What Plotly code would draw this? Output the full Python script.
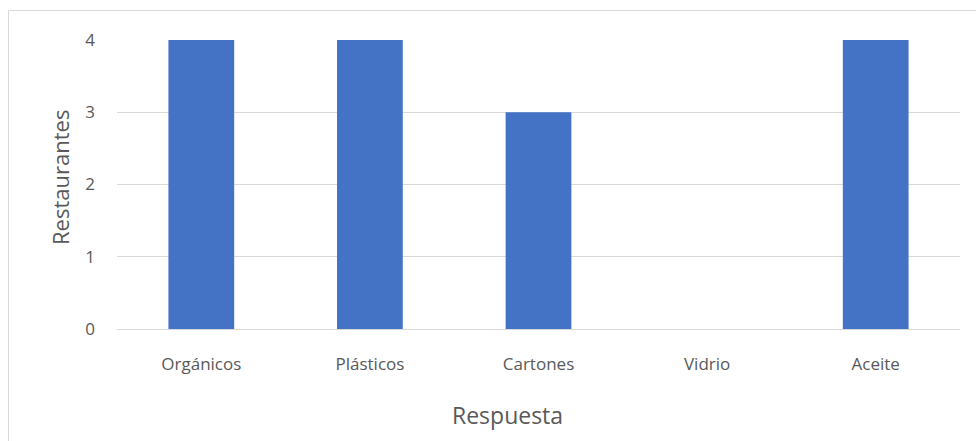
import plotly.graph_objects as go

categorias = ["Orgánicos", "Plásticos", "Cartones", "Vidrio", "Aceite"]
restaurantes = [4, 4, 3, 0, 4]
y_ticks = [0, 1, 2, 3, 4]

W, H = 976, 441
ML, MR, MT, MB = 117, 16, 40, 112
PW, PH = W - ML - MR, H - MT - MB

def px_x(p):
    return (p - ML) / PW

def px_y(p):
    return 1 - (p - MT) / PH

fig = go.Figure(
    go.Bar(
        x=categorias,
        y=restaurantes,
        marker=dict(color="#4472C4", line=dict(width=0)),
        width=0.39,
    )
)

font_family = "Open Sans, Noto Sans, sans-serif"
text_color = "#595959"

fig.update_layout(
    width=W,
    height=H,
    margin=dict(l=ML, r=MR, t=MT, b=MB),
    plot_bgcolor="white",
    paper_bgcolor="white",
    showlegend=False,
    font=dict(family=font_family, color=text_color, size=17),
    xaxis=dict(
        showgrid=False,
        showline=True,
        linecolor="#d9d9d9",
        linewidth=1,
        ticks="",
        ticklabelstandoff=20,
        tickfont=dict(size=17, color=text_color),
    ),
    yaxis=dict(
        range=[0, 4],
        tickvals=y_ticks,
        showgrid=True,
        gridcolor="#d9d9d9",
        gridwidth=1,
        zeroline=False,
        ticks="",
        ticklabelstandoff=21,
        tickfont=dict(size=17, color=text_color),
    ),
    annotations=[
        dict(
            text="Respuesta",
            xref="paper", yref="paper",
            x=px_x(507), y=px_y(415),
            xanchor="center", yanchor="middle",
            showarrow=False,
            font=dict(size=23, color=text_color),
        ),
        dict(
            text="Restaurantes",
            xref="paper", yref="paper",
            x=px_x(60), y=px_y(177),
            xanchor="center", yanchor="middle",
            textangle=-90,
            showarrow=False,
            font=dict(size=22, color=text_color),
        ),
    ],
    shapes=[
        dict(
            type="rect",
            xref="paper",
            yref="paper",
            x0=px_x(8.5),
            x1=px_x(W + 10),
            y0=px_y(H + 10),
            y1=px_y(10.5),
            line=dict(color="#d9d9d9", width=1),
            fillcolor="rgba(0,0,0,0)",
            layer="below",
        )
    ],
)

fig.write_html("out.html")
